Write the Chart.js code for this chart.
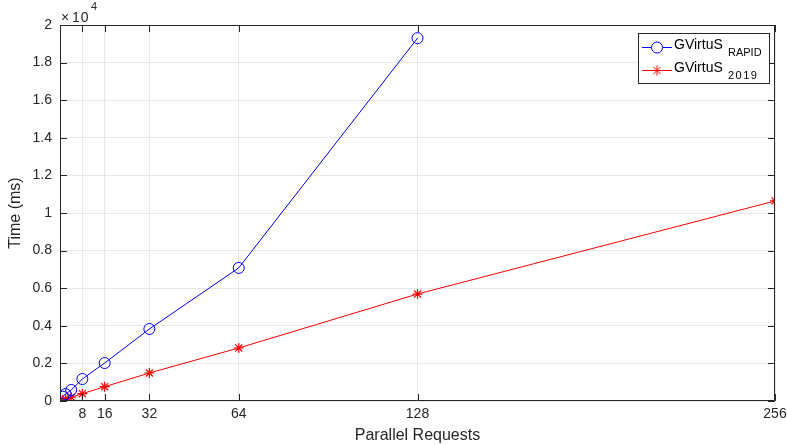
<!DOCTYPE html>
<html>
<head>
<meta charset="utf-8">
<script src="https://cdn.jsdelivr.net/npm/chart.js@4/dist/chart.umd.min.js"></script>
<style>
  html, body { margin: 0; padding: 0; background: #fff; }
  #wrap { width: 787px; height: 445px; }
</style>
</head>
<body>
<div id="wrap"><canvas id="grafico"></canvas></div>
<script>
// valores
const requestsRapid = [1, 2, 4, 8, 16, 32, 64, 128];
const timeRapid = [230, 370, 585, 1170, 2020, 3830, 7080, 19300];
const requests2019 = [1, 2, 4, 8, 16, 32, 64, 128, 256];
const time2019 = [50, 100, 200, 390, 760, 1490, 2820, 5690, 10640];
const xTicks = [8, 16, 32, 64, 128, 256];
const yTicks = [0, 2000, 4000, 6000, 8000, 10000, 12000, 14000, 16000, 18000, 20000];
const seriesNames = ['GVirtuS', 'GVirtuS'];
const seriesSubs = ['RAPID', '2019'];

const ejeColor = '#262626';
const fuente = '"Liberation Sans", Arial, sans-serif';

function toPoints(xs, ys) {
  return xs.map((x, i) => ({ x: x, y: ys[i] }));
}

// marco, ticks hacia dentro, x10^4 y leyenda estilo matlab
const matlabPlugin = {
  id: 'matlab',
  afterDraw(chart) {
    const ctx = chart.ctx;
    const a = chart.chartArea;
    const xs = chart.scales.x, ys = chart.scales.y;
    ctx.save();
    ctx.strokeStyle = ejeColor;
    ctx.lineWidth = 1;
    ctx.beginPath();
    ctx.rect(a.left + 0.5, a.top + 0.5, a.right - a.left - 1, a.bottom - a.top - 1);
    ctx.stroke();
    ctx.beginPath();
    xTicks.forEach(t => {
      const px = Math.round(xs.getPixelForValue(t)) + 0.5;
      ctx.moveTo(px, a.bottom); ctx.lineTo(px, a.bottom - 7);
      ctx.moveTo(px, a.top); ctx.lineTo(px, a.top + 7);
    });
    yTicks.forEach(t => {
      const py = Math.round(ys.getPixelForValue(t)) + 0.5;
      ctx.moveTo(a.left, py); ctx.lineTo(a.left + 7, py);
      ctx.moveTo(a.right, py); ctx.lineTo(a.right - 7, py);
    });
    ctx.stroke();

    // multiplicador
    ctx.fillStyle = ejeColor;
    ctx.textBaseline = 'alphabetic';
    ctx.textAlign = 'left';
    ctx.font = '14px ' + fuente;
    ctx.fillText('\u00d7', a.left + 1, a.top - 3);
    ctx.letterSpacing = '1px';
    ctx.fillText('10', a.left + 12, a.top - 3);
    ctx.letterSpacing = '0px';
    ctx.font = '11px ' + fuente;
    ctx.fillText('4', a.left + 31, a.top - 15);

    // leyenda
    const lx = 638, ly = 33, lw = 131, lh = 50;
    ctx.fillStyle = '#fff';
    ctx.fillRect(lx, ly, lw, lh);
    ctx.strokeStyle = ejeColor;
    ctx.strokeRect(lx + 0.5, ly + 0.5, lw, lh);
    const colores = ['#0000ff', '#ff0000'];
    [0, 1].forEach(i => {
      const cy = ly + 14 + i * 23;
      ctx.strokeStyle = colores[i];
      ctx.lineWidth = 1;
      ctx.beginPath();
      ctx.moveTo(lx + 4, cy + 0.5); ctx.lineTo(lx + 34, cy + 0.5);
      ctx.stroke();
      const ds = chart.data.datasets[i];
      Chart.helpers.drawPoint(ctx, {
        pointStyle: ds.pointStyle, radius: ds.pointRadius, borderWidth: 1
      }, lx + 19, cy + 0.5);
      ctx.fillStyle = '#000';
      ctx.font = '14px ' + fuente;
      ctx.fillText(seriesNames[i], lx + 36, cy + 1.5);
      ctx.font = '11px ' + fuente;
      ctx.letterSpacing = i === 1 ? '1.5px' : '0px';
      ctx.fillText(seriesSubs[i], lx + 90, cy + 8.5);
      ctx.letterSpacing = '0px';
    });
    ctx.restore();
  }
};

new Chart(document.getElementById('grafico').getContext('2d'), {
  type: 'line',
  data: {
    datasets: [
      {
        label: 'GVirtuS RAPID',
        data: toPoints(requestsRapid, timeRapid),
        borderColor: '#0000ff',
        backgroundColor: 'rgba(0,0,0,0)',
        borderWidth: 1,
        pointStyle: 'circle',
        pointRadius: 5.5,
        pointBorderWidth: 1,
        pointBorderColor: '#0000ff',
        tension: 0
      },
      {
        label: 'GVirtuS 2019',
        data: toPoints(requests2019, time2019),
        borderColor: '#ff0000',
        backgroundColor: 'rgba(0,0,0,0)',
        borderWidth: 1,
        pointStyle: 'star',
        pointRadius: 5,
        pointBorderWidth: 1.2,
        pointBorderColor: '#ff0000',
        tension: 0
      }
    ]
  },
  options: {
    responsive: true,
    maintainAspectRatio: false,
    animation: false,
    layout: { padding: { left: 0, right: 12, top: 25, bottom: 0 } },
    plugins: {
      legend: { display: false },
      tooltip: { enabled: false }
    },
    scales: {
      x: {
        type: 'linear',
        min: 0,
        max: 256,
        afterBuildTicks: s => { s.ticks = xTicks.map(v => ({ value: v })); },
        afterFit: s => { s.height = 44; s.paddingLeft = 0; s.paddingRight = 0; },
        grid: { color: '#e8e8e8', drawTicks: false },
        border: { display: false },
        ticks: {
          color: ejeColor,
          font: { family: fuente, size: 14 },
          padding: 5,
          maxRotation: 0,
          autoSkip: false
        },
        title: {
          display: true,
          text: 'Parallel Requests',
          color: ejeColor,
          font: { family: fuente, size: 16 },
          padding: { top: 0, bottom: 0 }
        }
      },
      y: {
        type: 'linear',
        min: 0,
        max: 20000,
        afterBuildTicks: s => { s.ticks = yTicks.map(v => ({ value: v })); },
        afterFit: s => { s.width = 60; s.paddingTop = 0; s.paddingBottom = 0; },
        grid: { color: '#e8e8e8', drawTicks: false },
        border: { display: false },
        ticks: {
          color: ejeColor,
          font: { family: fuente, size: 14 },
          padding: 8,
          callback: v => v === 0 ? '0' : String(+(v / 10000).toFixed(1))
        },
        title: {
          display: true,
          text: 'Time (ms)',
          color: ejeColor,
          font: { family: fuente, size: 16 },
          padding: { top: 6, bottom: 0 }
        }
      }
    }
  },
  plugins: [matlabPlugin]
});
</script>
</body>
</html>
